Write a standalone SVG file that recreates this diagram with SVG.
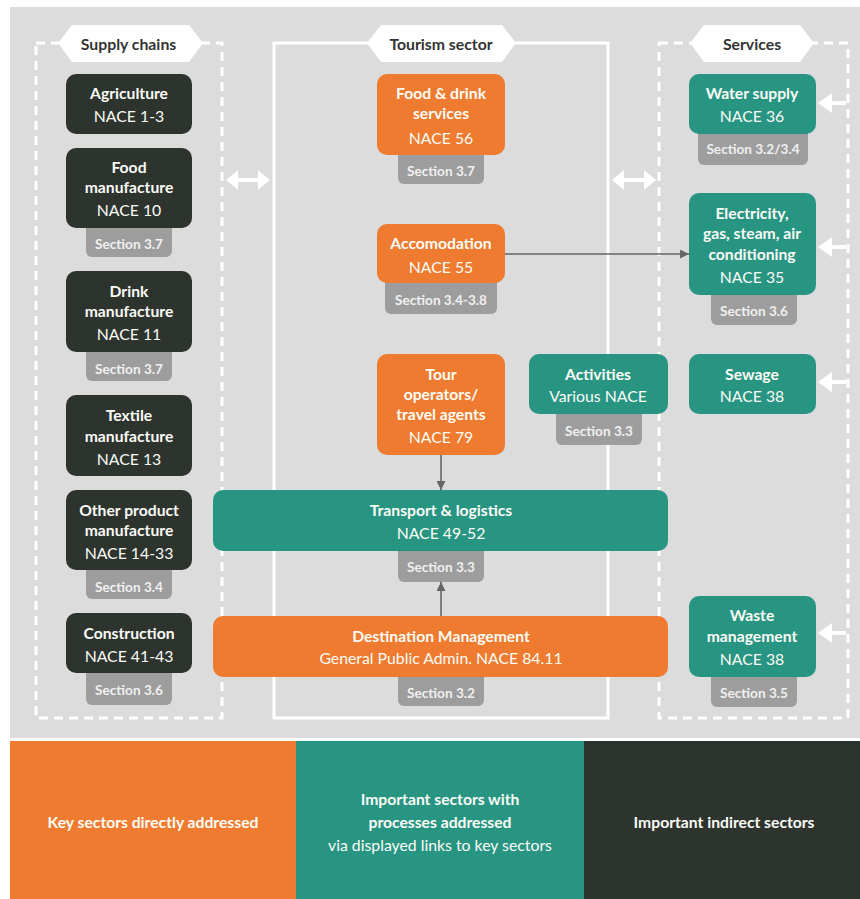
<svg xmlns="http://www.w3.org/2000/svg" width="860" height="899" viewBox="0 0 860 899">
<style>
.t{font-family:Lato,"Open Sans","Liberation Sans",sans-serif;fill:#fbfbf6;text-anchor:middle}
.b{font-weight:700;font-size:15.7px}
.r{font-weight:400;font-size:15.8px}
.s{font-weight:700;font-size:13.6px;fill:#f0f0f0}
.h{font-family:Lato,"Open Sans","Liberation Sans",sans-serif;font-weight:700;font-size:15.8px;fill:#333;text-anchor:middle}
.tag{fill:#9d9d9d}
.dk{fill:#2d342e}
.or{fill:#ee7b30}
.te{fill:#289582}
.dash{fill:none;stroke:#fff;stroke-width:3;stroke-dasharray:9 6}
.gl{stroke:#666;stroke-width:1.6;fill:none}
.wl{stroke:#fff;stroke-width:4;fill:none}
</style>
<defs>
<marker id="ga" viewBox="0 0 10 10" refX="10" refY="5" markerWidth="9" markerHeight="9" markerUnits="userSpaceOnUse" orient="auto"><path d="M0,0 L10,5 L0,10 z" fill="#666"/></marker>
</defs>
<rect x="0" y="0" width="860" height="899" fill="#fff"/>
<rect x="10" y="7" width="850" height="731" fill="#dcdcdc"/>

<!-- panels -->
<g id="panels">
<rect class="dash" x="36" y="43" width="186" height="675"/>
<rect x="274" y="43" width="334" height="675" fill="none" stroke="#fff" stroke-width="3"/>
<rect class="dash" x="659" y="43" width="189" height="675"/>
<polygon points="58,43 72,25 189,25 203,43 189,62 72,62" fill="#fff"/>
<text class="h" x="128.5" y="50">Supply chains</text>
<polygon points="367,43 381,25 502,25 516,43 502,62 381,62" fill="#fff"/>
<text class="h" x="441" y="50">Tourism sector</text>
<polygon points="690,43 704,25 800,25 814,43 800,62 704,62" fill="#fff"/>
<text class="h" x="752" y="50">Services</text>
</g>

<!-- connectors -->
<g id="connectors">
<path class="wl" d="M232,180 H264"/>
<path d="M226,180 L238,170 L238,190 z M270,180 L258,170 L258,190 z" fill="#fff"/>
<path class="wl" d="M618,180 H650"/>
<path d="M612,180 L624,170 L624,190 z M656,180 L644,170 L644,190 z" fill="#fff"/>
<g fill="#fff">
<path class="wl" d="M846,103 H826"/><path d="M818,103 L832,93 L832,113 z"/>
<path class="wl" d="M846,247 H826"/><path d="M818,247 L832,237 L832,257 z"/>
<path class="wl" d="M846,382 H826"/><path d="M818,382 L832,372 L832,392 z"/>
<path class="wl" d="M846,633 H826"/><path d="M818,633 L832,623 L832,643 z"/>
</g>
<path class="gl" d="M505,254 H689" marker-end="url(#ga)"/>
<path class="gl" d="M441,455 V490" marker-end="url(#ga)"/>
<path class="gl" d="M441,616 V582" marker-end="url(#ga)"/>
</g>

<!-- left nodes -->
<g id="agriculture">
<rect class="dk" x="66" y="74" width="126" height="60" rx="10"/>
<text class="t b" x="129" y="99">Agriculture</text>
<text class="t r" x="129" y="122">NACE 1-3</text>
</g>
<g id="food-manufacture">
<rect class="tag" x="86" y="220" width="86" height="37" rx="6"/>
<rect class="dk" x="66" y="148" width="126" height="80" rx="10"/>
<text class="t b" x="129" y="173">Food</text>
<text class="t b" x="129" y="193">manufacture</text>
<text class="t r" x="129" y="216">NACE 10</text>
<text class="t s" x="129" y="249">Section 3.7</text>
</g>
<g id="drink-manufacture">
<rect class="tag" x="86" y="344" width="86" height="37" rx="6"/>
<rect class="dk" x="66" y="271" width="126" height="81" rx="10"/>
<text class="t b" x="129" y="297">Drink</text>
<text class="t b" x="129" y="317">manufacture</text>
<text class="t r" x="129" y="340">NACE 11</text>
<text class="t s" x="129" y="374">Section 3.7</text>
</g>
<g id="textile-manufacture">
<rect class="dk" x="66" y="395" width="126" height="81" rx="10"/>
<text class="t b" x="129" y="421">Textile</text>
<text class="t b" x="129" y="442">manufacture</text>
<text class="t r" x="129" y="465">NACE 13</text>
</g>
<g id="other-manufacture">
<rect class="tag" x="86" y="562" width="86" height="37" rx="6"/>
<rect class="dk" x="66" y="490" width="126" height="80" rx="10"/>
<text class="t b" x="129" y="516">Other product</text>
<text class="t b" x="129" y="536">manufacture</text>
<text class="t r" x="129" y="559">NACE 14-33</text>
<text class="t s" x="129" y="592">Section 3.4</text>
</g>
<g id="construction">
<rect class="tag" x="86" y="665" width="86" height="40" rx="6"/>
<rect class="dk" x="66" y="613" width="126" height="60" rx="10"/>
<text class="t b" x="129" y="639">Construction</text>
<text class="t r" x="129" y="662">NACE 41-43</text>
<text class="t s" x="129" y="695">Section 3.6</text>
</g>

<!-- tourism -->
<g id="food-drink">
<rect class="tag" x="398" y="147" width="86" height="37" rx="6"/>
<rect class="or" x="377" y="74" width="128" height="81" rx="10"/>
<text class="t b" x="441" y="99">Food &amp; drink</text>
<text class="t b" x="441" y="119">services</text>
<text class="t r" x="441" y="144">NACE 56</text>
<text class="t s" x="441" y="176">Section 3.7</text>
</g>
<g id="accomodation">
<rect class="tag" x="385" y="275" width="112" height="39" rx="6"/>
<rect class="or" x="377" y="224" width="128" height="59" rx="10"/>
<text class="t b" x="441" y="249">Accomodation</text>
<text class="t r" x="441" y="273">NACE 55</text>
<text class="t s" x="441" y="305">Section 3.4-3.8</text>
</g>
<g id="tour-operators">
<rect class="or" x="377" y="354" width="128" height="101" rx="10"/>
<text class="t b" x="441" y="380">Tour</text>
<text class="t b" x="441" y="400">operators/</text>
<text class="t b" x="441" y="420">travel agents</text>
<text class="t r" x="441" y="443">NACE 79</text>
</g>
<g id="activities">
<rect class="tag" x="556" y="406" width="86" height="39" rx="6"/>
<rect class="te" x="529" y="354" width="139" height="60" rx="10"/>
<text class="t b" x="598" y="380">Activities</text>
<text class="t r" x="598" y="402">Various NACE</text>
<text class="t s" x="599" y="436">Section 3.3</text>
</g>
<g id="transport">
<rect class="tag" x="398" y="543" width="86" height="39" rx="6"/>
<rect class="te" x="213" y="490" width="455" height="61" rx="10"/>
<text class="t b" x="441" y="516">Transport &amp; logistics</text>
<text class="t r" x="441" y="539">NACE 49-52</text>
<text class="t s" x="441" y="572">Section 3.3</text>
</g>
<g id="destination">
<rect class="tag" x="398" y="669" width="86" height="37" rx="6"/>
<rect class="or" x="213" y="616" width="455" height="61" rx="10"/>
<text class="t b" x="441" y="642">Destination Management</text>
<text class="t r" x="441" y="664">General Public Admin. NACE 84.11</text>
<text class="t s" x="441" y="698">Section 3.2</text>
</g>

<!-- services -->
<g id="water-supply">
<rect class="tag" x="698" y="126" width="110" height="39" rx="6"/>
<rect class="te" x="689" y="74" width="127" height="60" rx="10"/>
<text class="t b" x="752" y="99">Water supply</text>
<text class="t r" x="752" y="122">NACE 36</text>
<text class="t s" x="753" y="154">Section 3.2/3.4</text>
</g>
<g id="electricity">
<rect class="tag" x="711" y="287" width="86" height="38" rx="6"/>
<rect class="te" x="689" y="193" width="127" height="102" rx="10"/>
<text class="t b" x="752" y="219">Electricity,</text>
<text class="t b" x="752" y="239">gas, steam, air</text>
<text class="t b" x="752" y="260">conditioning</text>
<text class="t r" x="752" y="283">NACE 35</text>
<text class="t s" x="754" y="316">Section 3.6</text>
</g>
<g id="sewage">
<rect class="te" x="689" y="354" width="127" height="60" rx="10"/>
<text class="t b" x="752" y="380">Sewage</text>
<text class="t r" x="752" y="402">NACE 38</text>
</g>
<g id="waste">
<rect class="tag" x="711" y="669" width="86" height="38" rx="6"/>
<rect class="te" x="689" y="596" width="127" height="81" rx="10"/>
<text class="t b" x="752" y="621">Waste</text>
<text class="t b" x="752" y="642">management</text>
<text class="t r" x="752" y="665">NACE 38</text>
<text class="t s" x="754" y="698">Section 3.5</text>
</g>

<!-- legend -->
<g id="legend">
<rect class="or" x="10" y="741" width="286" height="158"/>
<rect class="te" x="296" y="741" width="288" height="158"/>
<rect class="dk" x="584" y="741" width="276" height="158"/>
<text class="t b" x="153" y="828">Key sectors directly addressed</text>
<text class="t b" x="440" y="805">Important sectors with</text>
<text class="t b" x="440" y="828">processes addressed</text>
<text class="t r" x="440" y="851">via displayed links to key sectors</text>
<text class="t b" x="724" y="828">Important indirect sectors</text>
</g>
</svg>
